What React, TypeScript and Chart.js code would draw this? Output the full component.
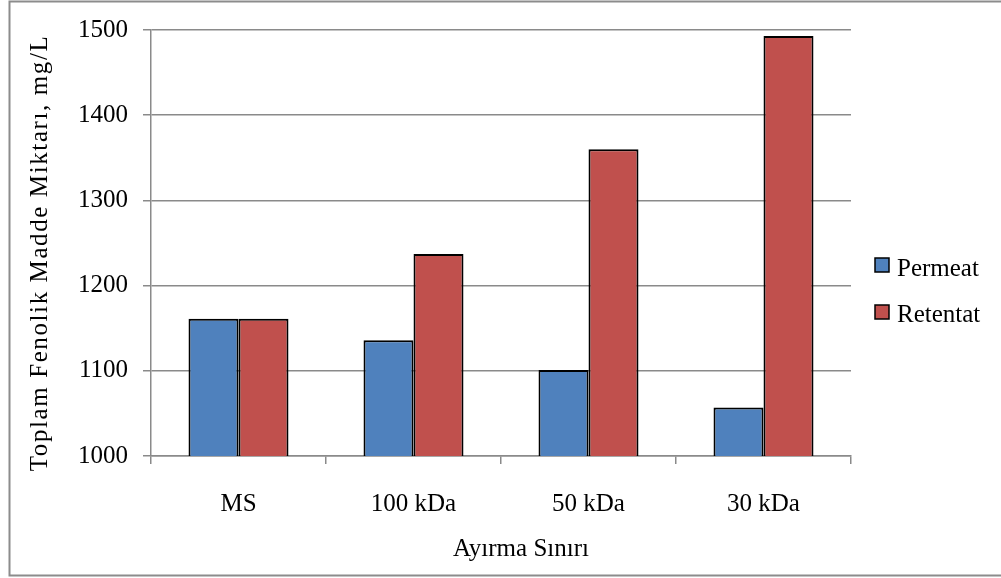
import React, { useEffect, useRef } from "react";
import { Chart, registerables } from "chart.js";

Chart.register(...registerables);

const categories = ["MS", "100 kDa", "50 kDa", "30 kDa"];
const permeatValues = [1161, 1136, 1101, 1057];
const retentatValues = [1161, 1237, 1360, 1493];
const seriesNames = ["Permeat", "Retentat"];
const seriesColors = ["#4F81BD", "#C0504D"];
const yTickMin = 1000;
const yTickMax = 1500;
const yTickStep = 100;
const xTitle = "Ayırma Sınırı";
const yTitle = "Toplam Fenolik Madde Miktarı, mg/L";

const FONT = "'Liberation Serif', 'Times New Roman', serif";
const AXIS_GRAY = "#8a8a8a";

// Frame, axis titles and legend are painted straight onto the canvas.
const decorPlugin = {
  id: "decor",
  beforeDraw(chart: any) {
    const { ctx, width } = chart;
    ctx.save();
    ctx.fillStyle = "#ffffff";
    ctx.fillRect(0, 0, chart.width, chart.height);
    ctx.strokeStyle = "#8c8c8c";
    ctx.lineWidth = 2;
    ctx.beginPath();
    ctx.moveTo(width + 5, 1.5);
    ctx.lineTo(9.5, 1.5);
    ctx.lineTo(9.5, 575.5);
    ctx.lineTo(width + 5, 575.5);
    ctx.stroke();
    ctx.restore();
  },
  afterDraw(chart: any) {
    const { ctx } = chart;
    ctx.save();
    ctx.fillStyle = "#000000";

    // y-axis title
    ctx.save();
    ctx.translate(47, 253);
    ctx.rotate(-Math.PI / 2);
    ctx.font = `25px ${FONT}`;
    (ctx as any).letterSpacing = "1.6px";
    ctx.textAlign = "center";
    ctx.textBaseline = "alphabetic";
    ctx.fillText(yTitle, 0, 0);
    ctx.restore();

    // x-axis title
    ctx.font = `25px ${FONT}`;
    ctx.textAlign = "center";
    ctx.textBaseline = "alphabetic";
    ctx.fillText(xTitle, 521, 556);

    // legend
    chart.data.datasets.forEach((ds: any, i: number) => {
      const boxTop = 258 + i * 47;
      ctx.fillStyle = ds.backgroundColor;
      ctx.fillRect(875, boxTop, 14, 14);
      ctx.strokeStyle = "#000000";
      ctx.lineWidth = 1.5;
      ctx.strokeRect(875, boxTop, 14, 14);
      ctx.fillStyle = "#000000";
      ctx.textAlign = "left";
      ctx.font = `25px ${FONT}`;
      ctx.fillText(ds.label, 897, 276 + i * 46);
    });
    ctx.restore();
  },
};

export default function App() {
  const canvasRef = useRef<HTMLCanvasElement | null>(null);

  useEffect(() => {
    if (!canvasRef.current) return;
    const chart = new Chart(canvasRef.current, {
      type: "bar",
      data: {
        labels: categories,
        datasets: [
          {
            label: seriesNames[0],
            data: permeatValues,
            backgroundColor: seriesColors[0],
            borderColor: "#000000",
            borderWidth: 2,
            categoryPercentage: 100 / 175,
            barPercentage: 1,
          },
          {
            label: seriesNames[1],
            data: retentatValues,
            backgroundColor: seriesColors[1],
            borderColor: "#000000",
            borderWidth: 2,
            categoryPercentage: 100 / 175,
            barPercentage: 1,
          },
        ],
      },
      options: {
        responsive: false,
        animation: false,
        devicePixelRatio: 1,
        layout: { padding: { left: 0, right: 150, top: 28, bottom: 0 } },
        plugins: {
          legend: { display: false },
          tooltip: { enabled: false },
          title: { display: false },
        },
        scales: {
          x: {
            afterFit: (scale: any) => {
              scale.height = 122;
            },
            grid: {
              drawOnChartArea: false,
              drawTicks: true,
              tickLength: 8,
              color: AXIS_GRAY,
              lineWidth: 1.5,
              offset: true,
            },
            border: { display: true, color: AXIS_GRAY, width: 1.5 },
            ticks: {
              color: "#000000",
              font: { family: FONT, size: 25 },
              padding: 25,
              maxRotation: 0,
            },
          },
          y: {
            min: yTickMin,
            max: yTickMax,
            afterFit: (scale: any) => {
              scale.width = 151;
            },
            grid: {
              color: AXIS_GRAY,
              lineWidth: 1.5,
              tickLength: 8,
              drawTicks: true,
            },
            border: { display: true, color: AXIS_GRAY, width: 1.5 },
            ticks: {
              stepSize: yTickStep,
              color: "#000000",
              font: { family: FONT, size: 25 },
              padding: 15,
              callback: (value: any) => String(value),
            },
          },
        },
      },
      plugins: [decorPlugin],
    });
    return () => chart.destroy();
  }, []);

  return (
    <div style={{ position: "absolute", left: 0, top: 0, width: 1001, height: 578, overflow: "hidden" }}>
      <canvas ref={canvasRef} width={1001} height={578} style={{ display: "block" }} />
    </div>
  );
}
